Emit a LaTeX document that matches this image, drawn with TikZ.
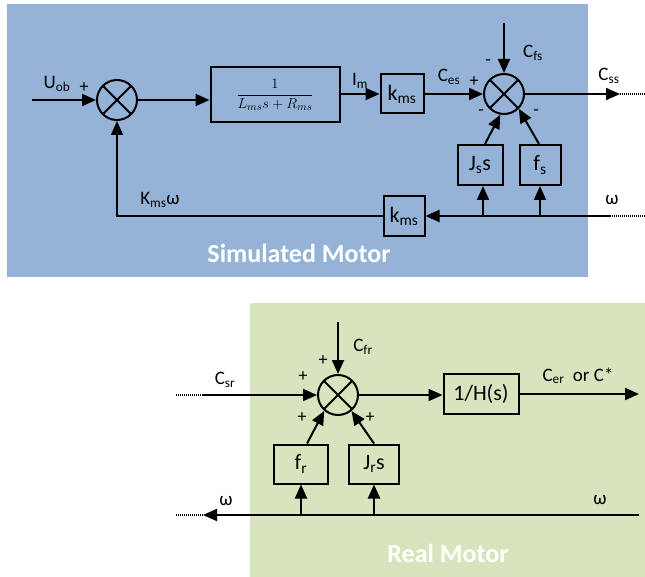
\documentclass[tikz,border=0pt]{standalone}
\usepackage{fontspec}
\setmainfont{Carlito}
\usepackage{amsmath}
\usetikzlibrary{arrows.meta}
\definecolor{simblue}{RGB}{149,179,215}
\definecolor{realgreen}{RGB}{215,228,189}

\begin{document}
\begin{tikzpicture}[x=1pt,y=-1pt,->,>={Triangle[length=14pt,width=12pt]},line width=2pt,
		sum node/.style={circle,draw,minimum size=40pt,inner sep=0pt,
			path picture={\draw[-,line width=2pt] (path picture bounding box.north west) -- (path picture bounding box.south east)
				(path picture bounding box.north east) -- (path picture bounding box.south west);}},
		block/.style={rectangle,draw,inner sep=0pt,font=\fontsize{22}{26}\selectfont},
		lbl/.style={font=\fontsize{19}{22}\selectfont},
		sgn/.style={font=\fontsize{18}{20}\selectfont},
		title/.style={text=white,font=\fontsize{26}{30}\selectfont\bfseries},
		dots/.style={-,dash pattern=on 1pt off 1pt,line width=1.2pt}]

		\useasboundingbox (0,0) rectangle (645,577);
		\fill[-,simblue] (7,4) rectangle (588,277);
		\fill[-,realgreen] (250,303) rectangle (645,577);

		% simulated motor
		\node[sum node] (sum1) at (117,100) {};
		\node[block,minimum width=129pt,minimum height=55pt,font=\fontsize{15}{17}\selectfont] (plant) at (275,95) {$\dfrac{1}{L_{ms}s+R_{ms}}$};
		\node[block,minimum width=43pt,minimum height=39pt] (kms1) at (402,94) {k\textsubscript{ms}};
		\node[sum node] (sum2) at (504,94) {};
		\node[block,minimum width=45pt,minimum height=40pt] (jss) at (480,165) {J\textsubscript{s}s};
		\node[block,minimum width=41pt,minimum height=40pt] (fs) at (540,165) {f\textsubscript{s}};
		\node[block,minimum width=41pt,minimum height=40pt] (kms2) at (404,216) {k\textsubscript{ms}};

		\coordinate (uin) at (32,100);
		\coordinate (cfs) at (504,23);
		\coordinate (cssout) at (620,94);
		\coordinate (cssend) at (645,94);
		\coordinate (wend) at (645,216);
		\coordinate (wsol) at (610,216);

		\draw (uin) -- (sum1.west);
		\draw (sum1.east) -- (sum1.east -| plant.west);
		\draw (plant.east |- kms1) -- (kms1.west);
		\draw (kms1.east) -- (sum2.west);
		\draw (cfs) -- (sum2.north);
		\draw (sum2.east) -- (cssout);
		\draw[dots] (cssout) -- (cssend);
		\draw ([xshift=5pt]jss.north) -- (sum2.-100);
		\draw ([xshift=-1pt]fs.north) -- (sum2.-45);
		\draw[dots] (wend) -- (wsol);
		\draw (wsol) -- (kms2.east);
		\draw (kms2.west) -| (sum1.south);
		\draw ([xshift=3pt]jss.south |- kms2) -- ([xshift=3pt]jss.south);
		\draw (fs.south |- kms2) -- (fs.south);

		\node[lbl] (uob) at (57,84) {U\textsubscript{ob}};
		\node[sgn] (p1) at (84,88) {+};
		\node[lbl] (kmsw) at (160,200) {K\textsubscript{ms}ω};
		\node[lbl] (im) at (360,81) {I\textsubscript{m}};
		\node[lbl] (ces) at (449,77) {C\textsubscript{es}};
		\node[sgn] (p2) at (474,82) {+};
		\node[lbl] (cfslbl) at (533,53) {C\textsubscript{fs}};
		\node[sgn] (m1) at (488,63) {-};
		\node[sgn] (m2) at (481,113) {-};
		\node[sgn] (m3) at (536,113) {-};
		\node[lbl] (css) at (609,76) {C\textsubscript{ss}};
		\node[lbl] (w1) at (612,200) {ω};
		\node[title] (simlbl) at (299,253) {Simulated Motor};

		% real motor
		\node[sum node] (sum3) at (338,395) {};
		\node[block,minimum width=54pt,minimum height=39pt] (fr) at (301,464) {f\textsubscript{r}};
		\node[block,minimum width=50pt,minimum height=39pt] (jrs) at (374,464) {J\textsubscript{r}s};
		\node[block,minimum width=75pt,minimum height=40pt] (hs) at (481,394) {1/H(s)};

		\coordinate (csrend) at (176,395);
		\coordinate (csrsol) at (203,395);
		\coordinate (cfr) at (338,322);
		\coordinate (cerout) at (639,394);
		\coordinate (wright) at (639,515);
		\coordinate (wleft) at (203,515);
		\coordinate (wleftend) at (176,515);

		\draw[dots] (csrend) -- (csrsol);
		\draw (csrsol) -- (sum3.west);
		\draw (cfr) -- (sum3.north);
		\draw (sum3.east) -- (sum3.east -| hs.west);
		\draw (hs.east) -- (cerout);
		\draw ([xshift=6pt]fr.north) -- (sum3.-131);
		\draw (jrs.north) -- (sum3.-50);
		\draw (wright) -- (wleft);
		\draw[dots] (wleft) -- (wleftend);
		\draw (fr.south |- wright) -- (fr.south);
		\draw (jrs.south |- wright) -- (jrs.south);

		\node[lbl] (csr) at (225,380) {C\textsubscript{sr}};
		\node[sgn] (p3) at (303,377) {+};
		\node[lbl] (cfrlbl) at (363,347) {C\textsubscript{fr}};
		\node[sgn] (p4) at (323,361) {+};
		\node[sgn] (p5) at (302,418) {+};
		\node[sgn] (p6) at (370,418) {+};
		\node[lbl] (cer) at (578,376) {C\textsubscript{er}\ \ or C*};
		\node[lbl] (w2) at (226,501) {ω};
		\node[lbl] (w3) at (600,500) {ω};
		\node[title] (reallbl) at (448,553) {Real Motor};
	\end{tikzpicture}
\end{document}
